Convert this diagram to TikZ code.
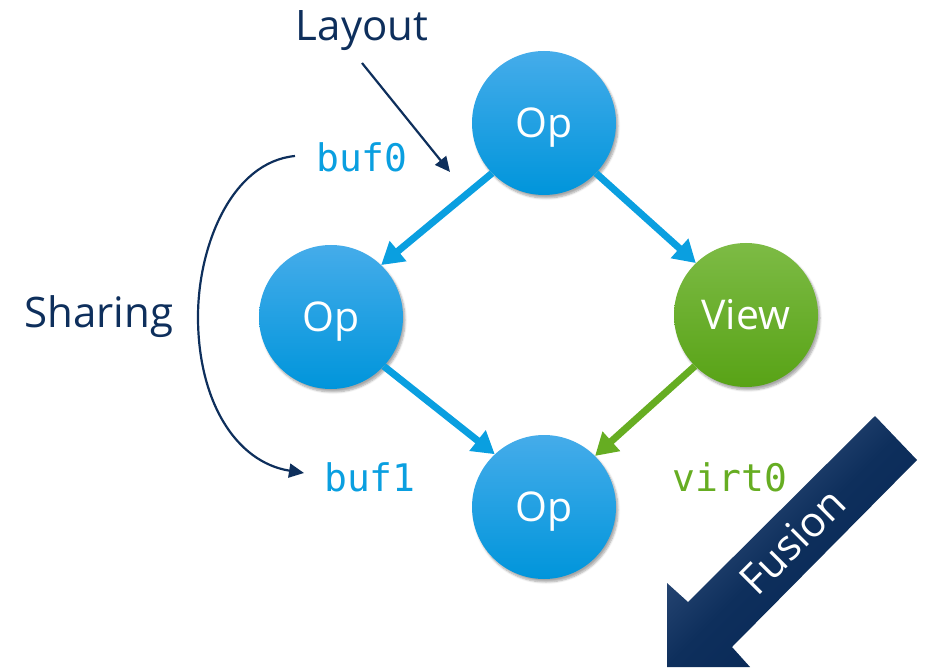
\documentclass[tikz,border=0pt]{standalone}
\usepackage{fontspec}
\setmainfont{Open Sans}
\newfontfamily\monof{DejaVu Sans Mono}
\usetikzlibrary{arrows.meta,shadows.blur}
\definecolor{opblue}{HTML}{0A9FE0}
\definecolor{optop}{HTML}{45ACEA}
\definecolor{opbot}{HTML}{0095DB}
\definecolor{vtop}{HTML}{7DBB45}
\definecolor{vbot}{HTML}{58A316}
\definecolor{vgreen}{HTML}{66AD22}
\definecolor{navy}{HTML}{0E2F5C}
\definecolor{navylight}{HTML}{3E5B88}
\definecolor{navydark}{HTML}{062655}
\tikzset{
  opnode/.style={circle, minimum size=144pt, inner sep=0pt,
    top color=optop, bottom color=opbot, text=white,
    font=\fontsize{41}{48}\selectfont, text height=30pt, text depth=1.4pt,
    blur shadow={shadow xshift=2pt, shadow yshift=-3pt, shadow blur steps=6, shadow opacity=35}},
  viewnode/.style={opnode, top color=vtop, bottom color=vbot},
  flowarrow/.style={line width=7pt, draw=opblue, -{Triangle[length=22pt,width=25pt]}},
  greenarrow/.style={flowarrow, draw=vgreen},
  notearrow/.style={line width=2.2pt, draw=navy, -{Triangle[length=15pt,width=14pt]}},
  notelabel/.style={text=navy, font=\fontsize{42}{50}\selectfont, inner sep=0pt},
  buflabel/.style={text=opblue, font=\monof\fontsize{38}{44}\selectfont, inner sep=0pt},
}
\begin{document}
\begin{tikzpicture}[x=1pt,y=-1pt]
\path[use as bounding box] (0,0) rectangle (938,671);
% nodes
\node[opnode] (top) at (544,123) {Op};
\node[opnode] (left) at (331,317) {Op};
\node[viewnode] (view) at (746,315) {View};
\node[opnode] (bot) at (544,507) {Op};
% connectors
\draw[flowarrow] (top.224) -- (left.46);
\draw[flowarrow] (top.316) -- (view.134);
\draw[flowarrow] (left.317) -- (bot.133);
\draw[greenarrow] (view.225) -- (bot.45);
% labels
\node[notelabel] (layout) at (362,31) {Layout};
\node[notelabel] (sharing) at (99,317) {Sharing};
\node[buflabel] (buf0) at (362,157) {buf0};
\node[buflabel] (buf1) at (370,477) {buf1};
\node[buflabel, text=vgreen] (virt0) at (730,477) {virt0};
% layout arrow
\coordinate (la) at (362,63);
\coordinate (lb) at (450,172);
\draw[notearrow] (la) -- (lb);
% sharing arrow
\coordinate (sa) at (295,156);
\coordinate (sm) at (198,317);
\coordinate (sb) at (304,473);
\draw[notearrow] (sa) .. controls (232,162) and (198,245) .. (sm)
  .. controls (198,400) and (235,462) .. (sb);
% fusion block arrow
\shade[top color=navylight, bottom color=navydark, middle color=navy, shading angle=45]
  (875,416) -- (917,460) -- (732,647) -- (750,667) -- (667,667) -- (667,583) -- (688,602) -- cycle;
\node[text=white, font=\fontsize{42}{50}\selectfont, rotate=45, inner sep=0pt] (fusion) at (792,541) {Fusion};
\end{tikzpicture}
\end{document}
